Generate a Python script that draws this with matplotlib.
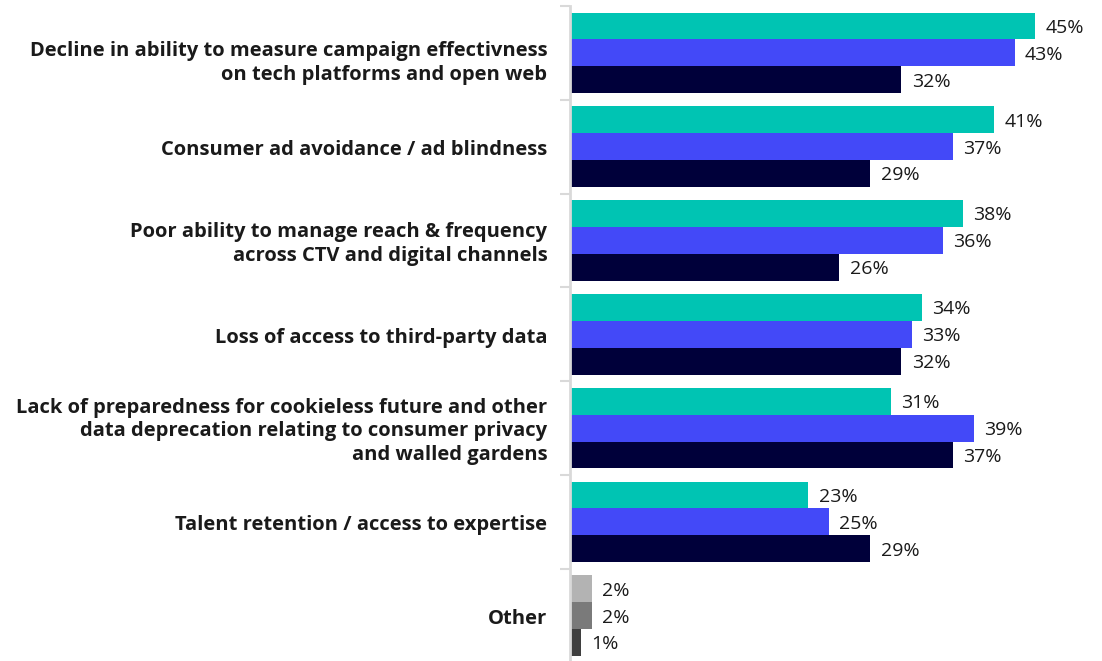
import numpy as np
import matplotlib
matplotlib.use("Agg")
import matplotlib.pyplot as plt

categories = [
    "Decline in ability to measure campaign effectivness\non tech platforms and open web",
    "Consumer ad avoidance / ad blindness",
    "Poor ability to manage reach & frequency\nacross CTV and digital channels",
    "Loss of access to third-party data",
    "Lack of preparedness for cookieless future and other\ndata deprecation relating to consumer privacy\nand walled gardens",
    "Talent retention / access to expertise",
    "Other",
]
series_1 = [45, 41, 38, 34, 31, 23, 2]
series_2 = [43, 37, 36, 33, 39, 25, 2]
series_3 = [32, 29, 26, 32, 37, 29, 1]

colors = ["#00C4B3", "#4349F8", "#00003A"]
other_colors = ["#B3B3B3", "#7A7A7A", "#3F3F3F"]

plt.rcParams["font.family"] = ["Open Sans", "DejaVu Sans"]

W, H = 1102, 661
fig = plt.figure(figsize=(W / 100, H / 100), dpi=100)
# axes: left spine at x=570, top at y=6, 7 groups of ~93.8 px
ax = fig.add_axes([570 / W, (H - 6 - 656.6) / H, 516 / W, 656.6 / H])

n = len(categories)
bar_h = 0.287
y = np.arange(n)
for j, vals in enumerate([series_1, series_2, series_3]):
    offs = (j - 1) * bar_h
    cols = [other_colors[j] if cat == "Other" else colors[j] for cat in categories]
    bars = ax.barh(y + offs, vals, height=bar_h, color=cols, left=0.1)
    for b, v in zip(bars, vals):
        ax.text(b.get_width() + 0.1 + 1.0, b.get_y() + bar_h / 2 + 0.02, f"{v}%",
                va="center", ha="left", fontsize=14, color="#1a1a1a")

ax.set_ylim(n - 0.5, -0.5)
ax.set_xlim(0, 50)

# category labels sit a little below group centres (first one more so)
label_shift = [0.11, 0.04, 0.04, 0.035, 0.035, 0.035, 0.035]
for i, cat in enumerate(categories):
    ax.text(-2.2, i + label_shift[i], cat, ha="right", va="center", fontsize=14.5,
            fontweight="bold", color="#1a1a1a", linespacing=1.25)
ax.set_yticks(np.arange(-0.5, n, 1.0))
ax.set_yticklabels([])
ax.tick_params(axis="y", length=7, width=1.5, color="#D9D9D9")
ax.set_xticks([])

for s in ["top", "right", "bottom"]:
    ax.spines[s].set_visible(False)
ax.spines["left"].set_color("#D9D9D9")
ax.spines["left"].set_linewidth(2)

fig.savefig("out.png", dpi=100)
